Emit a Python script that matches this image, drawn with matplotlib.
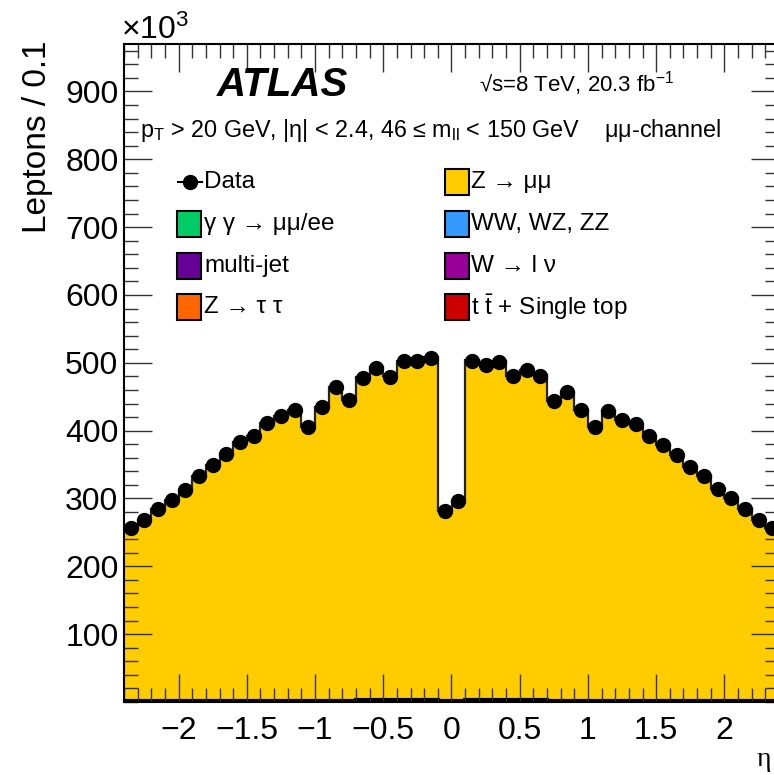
import numpy as np
import matplotlib
matplotlib.use("Agg")
import matplotlib.pyplot as plt
from matplotlib.ticker import FixedLocator, MultipleLocator
from matplotlib.patches import Rectangle
from matplotlib.lines import Line2D

plt.rcParams['font.family'] = ['Liberation Sans', 'DejaVu Sans']
plt.rcParams['mathtext.fontset'] = 'custom'
plt.rcParams['mathtext.rm'] = 'Liberation Sans'
plt.rcParams['mathtext.it'] = 'Liberation Sans:italic'

# eta bins of width 0.1 from -2.4 to 2.4, counts in units of 10^3
eta_lo, eta_hi, eta_step = -2.4, 2.4, 0.1

data = [256, 268, 284, 298, 313, 333, 350, 366, 383, 392, 412, 422,
        430, 405, 435, 465, 445, 478, 493, 479, 502, 503, 507, 282,
        296, 503, 497, 501, 480, 489, 481, 443, 457, 430, 405, 429,
        416, 410, 392, 379, 364, 347, 333, 314, 300, 284, 268, 256]

# Z -> mumu prediction (stacked on top of the small backgrounds)
zmumu = [254, 266, 282, 296, 311, 331, 348, 364, 381, 390, 410, 420,
         428, 403, 433, 463, 443, 476, 491, 477, 500, 501, 505, 280,
         294, 501, 495, 499, 478, 487, 479, 441, 455, 428, 403, 427,
         414, 408, 390, 377, 362, 345, 331, 312, 298, 282, 266, 254]

# sum of the small backgrounds (ttbar, dibosons, Z->tautau, W, multi-jet, gamma gamma)
other_bkg = [2, 2, 2, 2, 2, 2, 2, 2, 2, 2, 2, 2,
             2, 2, 2, 2, 2, 3, 3, 3, 3, 3, 3, 2,
             2, 3, 3, 3, 3, 3, 3, 2, 2, 2, 2, 2,
             2, 2, 2, 2, 2, 2, 2, 2, 2, 2, 2, 2]

legend_left = [("Data", None),
               ("γ γ → μμ/ee", "#00CC66"),
               ("multi-jet", "#660099"),
               ("Z → τ τ", "#FF6600")]
legend_right = [("Z → μμ", "#FFCC00"),
                ("WW, WZ, ZZ", "#3399FF"),
                ("W → l ν", "#990099"),
                (r"t $\bar{\mathregular{t}}$ + Single top", "#CC0000")]

nb = len(data)
edges = eta_lo + eta_step * np.arange(nb + 1)
centers = 0.5 * (edges[:-1] + edges[1:])
data = np.array(data, float)
bkg = np.array(other_bkg, float)
top = bkg + np.array(zmumu, float)

W, H = 774, 775
fig = plt.figure(figsize=(W / 100, H / 100), dpi=100)
ax = fig.add_axes([124 / W, 73 / H, 655 / W, (702 - 44) / H])

ax.stairs(bkg, edges, fill=True, color='#CC0000', lw=0)
ax.stairs(top, edges, baseline=bkg, fill=True, color='#FFCC00', lw=0)
ax.stairs(top, edges, baseline=None, color='#222222', lw=1.6)
ax.stairs(bkg, edges, baseline=None, color='black', lw=3)
ax.errorbar(centers, data, yerr=np.sqrt(data * 1000) / 1000, fmt='o',
            color='black', ms=10, elinewidth=1, zorder=5)

ax.set_xlim(eta_lo, eta_hi)
ax.set_ylim(0, 970)
ax.xaxis.set_major_locator(FixedLocator([-2, -1.5, -1, -0.5, 0, 0.5, 1, 1.5, 2]))
ax.xaxis.set_minor_locator(MultipleLocator(0.1))
ax.yaxis.set_major_locator(FixedLocator(np.arange(100, 901, 100)))
ax.yaxis.set_minor_locator(MultipleLocator(20))
ax.set_xticklabels(['\u22122', '\u22121.5', '\u22121', '\u22120.5', '0', '0.5', '1', '1.5', '2'])
ax.tick_params(which='both', direction='in', top=True, right=True,
               width=1, color='#333333', labelsize=23)
ax.tick_params(which='major', length=20)
ax.tick_params(which='minor', length=10)
ax.tick_params(axis='x', pad=10)
ax.tick_params(axis='y', pad=4)
for s in ax.spines.values():
    s.set_linewidth(1.5)

fig.text(38 / W, 1 - 137 / H, "Leptons / 0.1", rotation=90, fontsize=24,
         ha='center', va='center')
fig.text(121 / W, 1 - 30 / H, r"$\times$10$^{\mathregular{3}}$", fontsize=23,
         ha='left', va='center')
fig.text(771 / W, 1 - 760 / H, "η", fontsize=20, ha='right', va='center',
         family=['Liberation Serif', 'DejaVu Serif'])

fig.text(283 / W, 1 - 85 / H, "ATLAS", fontsize=29, fontweight='bold',
         fontstyle='italic', ha='center', va='center')
fig.text(577 / W, 1 - 84 / H, r"√s=8 TeV, 20.3 fb$^{\mathregular{-1}}$",
         fontsize=16, ha='center', va='center')
fig.text(140 / W, 1 - 131 / H,
         r"p$_{\mathregular{T}}$ > 20 GeV, |η| < 2.4, 46 ≤ m$_{\mathregular{ll}}$ < 150 GeV    μμ-channel",
         fontsize=16.8, ha='left', va='center')

rows = [182, 224, 266, 307]
for (label, col), y in zip(legend_left, rows):
    if col is None:
        fig.add_artist(Line2D([178 / W, 202 / W], [1 - y / H] * 2, color='black', lw=1.5))
        fig.add_artist(Line2D([190 / W], [1 - y / H], marker='o', ms=10, color='black'))
    else:
        fig.add_artist(Rectangle((177 / W, 1 - (y + 13) / H), 24 / W, 26 / H,
                                 facecolor=col, edgecolor='black', lw=1.5))
    fig.text(204 / W, 1 - y / H, label, fontsize=17.5, ha='left', va='center')
for (label, col), y in zip(legend_right, rows):
    fig.add_artist(Rectangle((445 / W, 1 - (y + 13) / H), 24 / W, 26 / H,
                             facecolor=col, edgecolor='black', lw=1.5))
    fig.text(471 / W, 1 - y / H, label, fontsize=17.5, ha='left', va='center')

fig.savefig("out.png", dpi=100)
